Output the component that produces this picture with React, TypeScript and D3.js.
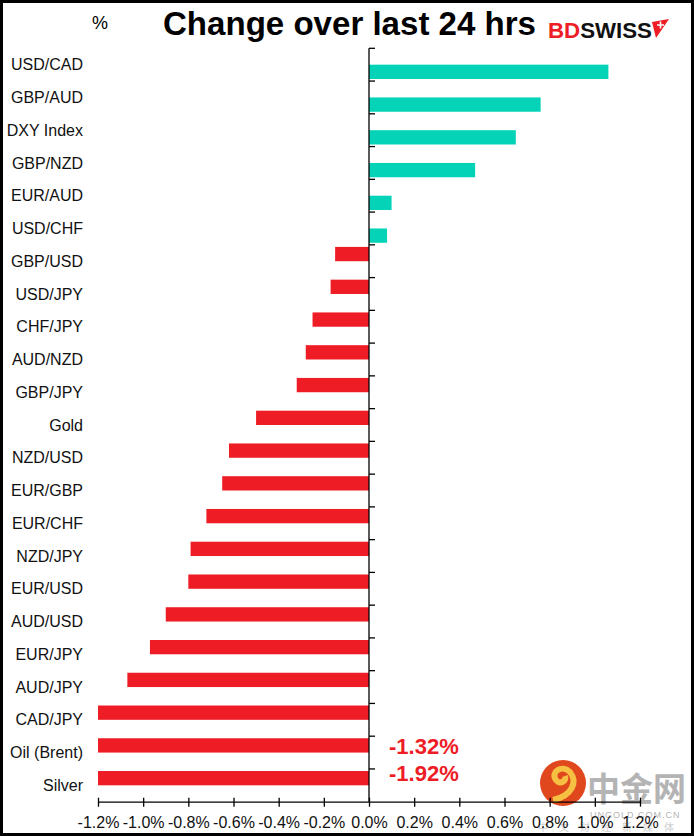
import React, { useEffect, useRef } from 'react'
import * as d3 from 'd3'

// values (% change over last 24 hrs)
const categories = [
  'USD/CAD', 'GBP/AUD', 'DXY Index', 'GBP/NZD', 'EUR/AUD', 'USD/CHF',
  'GBP/USD', 'USD/JPY', 'CHF/JPY', 'AUD/NZD', 'GBP/JPY', 'Gold',
  'NZD/USD', 'EUR/GBP', 'EUR/CHF', 'NZD/JPY', 'EUR/USD', 'AUD/USD',
  'EUR/JPY', 'AUD/JPY', 'CAD/JPY', 'Oil (Brent)', 'Silver',
]
const changes = [
  1.06, 0.76, 0.65, 0.47, 0.10, 0.08,
  -0.15, -0.17, -0.25, -0.28, -0.32, -0.50,
  -0.62, -0.65, -0.72, -0.79, -0.80, -0.90,
  -0.97, -1.07, -1.25, -1.32, -1.92,
]
const xTicks = [-1.2, -1.0, -0.8, -0.6, -0.4, -0.2, 0, 0.2, 0.4, 0.6, 0.8, 1.0, 1.2]
const seriesNames = ['Down', 'Up']
const calloutCats = ['Oil (Brent)', 'Silver']

const TEAL = '#05d3b8'
const RED = '#ee1c25'
const FONT = 'Liberation Sans, Arial, sans-serif'

export default function App() {
  const svgRef = useRef<SVGSVGElement | null>(null)

  useEffect(() => {
    const w = 694
    const h = 836
    const svg = d3.select(svgRef.current)
    svg.selectAll('*').remove()
    svg.attr('width', w).attr('height', h)

    svg.append('rect')
      .attr('x', 0).attr('y', 0).attr('width', w).attr('height', h)
      .attr('fill', 'white')

    // scales
    const x = d3.scaleLinear().domain([-1.2, 1.2]).range([98, 640]).clamp(true)
    const y = d3.scaleBand().domain(categories).range([48.3, 801.7])
    const sub = d3.scaleBand().domain(seriesNames)
      .range([0, y.bandwidth()]).paddingInner(0).paddingOuter(0.145)

    const rows = categories.map((c, i) => ({ cat: c, v: changes[i] }))

    // watermark (sits under the chart marks)
    const wm = svg.append('g')
    wm.append('circle').attr('cx', 563).attr('cy', 783).attr('r', 23).attr('fill', '#e0471c')
    wm.append('path')
      .attr('d', 'M553,800 C572,796 578,782 570,772 C562,764 550,772 556,780 C560,785 567,781 565,776')
      .attr('fill', 'none').attr('stroke', '#f6c143').attr('stroke-width', 6)
    wm.append('text')
      .attr('x', 587).attr('y', 801)
      .attr('font-family', 'Noto Sans CJK SC')
      .attr('font-weight', 'bold')
      .attr('font-size', 33)
      .attr('fill', '#b4b4b4')
      .text('中金网')
    wm.append('text')
      .attr('x', 590).attr('y', 818)
      .attr('font-family', FONT)
      .attr('font-size', 9)
      .attr('fill', '#b4b4b4')
      .attr('letter-spacing', 1)
      .text('UNGOLD.COM.CN')
    wm.append('text')
      .attr('x', 538).attr('y', 831)
      .attr('font-family', 'Noto Sans CJK SC')
      .attr('font-size', 10)
      .attr('fill', '#d0d0d0')
      .attr('letter-spacing', 11)
      .text('中文财经新媒体')

    // bars: two series, one for falls and one for rises
    svg.append('g')
      .selectAll('rect')
      .data(rows)
      .join('rect')
      .attr('x', d => Math.min(x(d.v), x(0)))
      .attr('y', d => (y(d.cat) ?? 0) + (sub(d.v < 0 ? 'Down' : 'Up') ?? 0))
      .attr('width', d => Math.abs(x(d.v) - x(0)))
      .attr('height', sub.bandwidth())
      .attr('fill', d => (d.v < 0 ? RED : TEAL))

    // category axis at zero
    const yAxisG = svg.append('g')
    yAxisG.append('line')
      .attr('x1', x(0)).attr('x2', x(0))
      .attr('y1', y.range()[0]).attr('y2', y.range()[1])
      .attr('stroke', 'black').attr('stroke-width', 1.3)
    const bounds = categories.map(c => y(c) ?? 0)
    yAxisG.selectAll('line.tick')
      .data(bounds)
      .join('line')
      .attr('class', 'tick')
      .attr('x1', x(0)).attr('x2', x(0) + 6)
      .attr('y1', d => d).attr('y2', d => d)
      .attr('stroke', 'black').attr('stroke-width', 1.3)

    svg.append('g')
      .selectAll('text')
      .data(categories)
      .join('text')
      .attr('x', 83)
      .attr('y', d => (y(d) ?? 0) + y.bandwidth() / 2)
      .attr('dy', '0.35em')
      .attr('text-anchor', 'end')
      .attr('font-family', FONT)
      .attr('font-size', 16)
      .attr('fill', '#111')
      .text(d => d)

    // value axis at the bottom
    const xAxis = d3.axisBottom(x)
      .tickValues(xTicks)
      .tickSize(0)
      .tickFormat(d => `${(+d).toFixed(1)}%`)
    const xg = svg.append('g')
      .attr('transform', `translate(0, ${y.range()[1]})`)
      .call(xAxis)
    xg.select('.domain').attr('stroke', 'black').attr('stroke-width', 1.3)
    xg.selectAll('.tick text')
      .attr('y', 15)
      .attr('font-family', FONT)
      .attr('font-size', 16)
      .attr('fill', '#111')
    xg.selectAll('.tick')
      .append('line')
      .attr('y1', -4).attr('y2', 5)
      .attr('stroke', 'black').attr('stroke-width', 1.3)

    // callouts for clipped bars
    const callOffsets = [1, -5.5]
    svg.append('g')
      .selectAll('text')
      .data(calloutCats)
      .join('text')
      .attr('x', 389)
      .attr('y', (d, i) => (y(d) ?? 0) + (sub('Down') ?? 0) + sub.bandwidth() / 2 + callOffsets[i])
      .attr('dy', '0.36em')
      .attr('font-family', FONT)
      .attr('font-weight', 'bold')
      .attr('font-size', 22)
      .attr('fill', RED)
      .text(d => `${changes[categories.indexOf(d)].toFixed(2)}%`)

    // header
    svg.append('text')
      .attr('x', 100).attr('y', 29)
      .attr('text-anchor', 'middle')
      .attr('font-family', FONT)
      .attr('font-size', 18)
      .text('%')
    svg.append('text')
      .attr('x', 163).attr('y', 35)
      .attr('font-family', FONT)
      .attr('font-weight', 'bold')
      .attr('font-size', 33)
      .attr('textLength', 373)
      .attr('lengthAdjust', 'spacingAndGlyphs')
      .text('Change over last 24 hrs')

    // logo
    const logo = svg.append('text')
      .attr('x', 548).attr('y', 38)
      .attr('font-family', FONT)
      .attr('font-weight', 'bold')
      .attr('font-size', 22)
      .attr('textLength', 104)
      .attr('lengthAdjust', 'spacingAndGlyphs')
    logo.append('tspan').attr('fill', RED).text('BD')
    logo.append('tspan').attr('fill', '#111').text('SWISS')
    svg.append('path')
      .attr('d', 'M652,22 L669,19 L656,38 Z')
      .attr('fill', RED)
    svg.append('path')
      .attr('d', 'M660.5,21.5 v7 M657,25 h7')
      .attr('stroke', 'white').attr('stroke-width', 1.6)

    // frame
    svg.append('rect')
      .attr('x', 1.5).attr('y', 1.5).attr('width', w - 3).attr('height', h - 3)
      .attr('fill', 'none').attr('stroke', 'black').attr('stroke-width', 3)
  }, [])

  return (
    <div style={{ position: 'absolute', left: 0, top: 0 }}>
      <svg ref={svgRef} style={{ display: 'block' }}></svg>
    </div>
  )
}
